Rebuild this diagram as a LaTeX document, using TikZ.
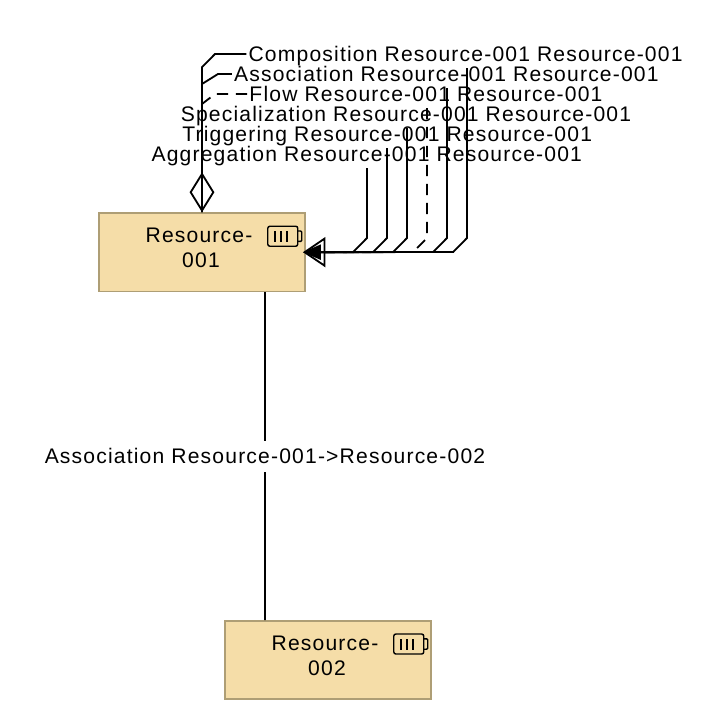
\documentclass[tikz,border=0pt]{standalone}
\usepackage{fontspec}
\setmainfont[LetterSpace=5.6]{Liberation Sans}
\usetikzlibrary{arrows.meta,positioning}
\definecolor{resfill}{HTML}{F5DDA8}
\definecolor{resline}{HTML}{AE9E75}
\newcommand{\batteryicon}[1]{%
  \draw[icon, rounded corners=1.5pt] ([xshift=-.95cm,yshift=-.35cm]#1) rectangle ([xshift=-.2cm,yshift=-.85cm]#1);
  \draw[icon, rounded corners=.8pt] ([xshift=-.2cm,yshift=-.47cm]#1) -- ([xshift=-.1cm,yshift=-.47cm]#1)
    -- ([xshift=-.1cm,yshift=-.73cm]#1) -- ([xshift=-.2cm,yshift=-.73cm]#1);
  \draw[icon] ([xshift=-.77cm,yshift=-.48cm]#1) -- ([xshift=-.77cm,yshift=-.75cm]#1);
  \draw[icon] ([xshift=-.62cm,yshift=-.48cm]#1) -- ([xshift=-.62cm,yshift=-.75cm]#1);
  \draw[icon] ([xshift=-.47cm,yshift=-.48cm]#1) -- ([xshift=-.47cm,yshift=-.75cm]#1);
}

\begin{document}
\begin{tikzpicture}[
  resource/.style={draw=resline, fill=resfill, line width=1.1pt, align=center,
    minimum width=5.15cm, minimum height=1.96cm, font=\fontsize{15}{17.8}\selectfont},
  rel/.style={font=\fontsize{15}{17}\selectfont, inner sep=0pt, text height=.42cm, text depth=.04cm},
  link/.style={draw=black, line width=1.3pt},
  flowlink/.style={link, dash pattern=on 8pt off 5.5pt},
  icon/.style={draw=black, line width=1pt},
  hollowtip/.style={-{Triangle[open, length=.56cm, width=.75cm]}, shorten >=-.07cm},
  solidtip/.style={-{Triangle[length=.45cm, width=.38cm]}, shorten >=-.07cm},
  diamondtip/.style={{Diamond[open, length=1cm, width=.62cm]}-}
]
  \useasboundingbox (0,0) rectangle (18.15,-18);

  \node[resource] (res1) at (5.05,-6.305) {Resource-\hspace*{.15cm}\\001\hspace*{.05cm}\rule[-.23cm]{0pt}{0pt}};
  \node[resource] (res2) at (8.2,-16.5) {Resource-\hspace*{.15cm}\\002\hspace*{.05cm}\rule[-.23cm]{0pt}{0pt}};
  \batteryicon{res1.north east}
  \batteryicon{res2.north east}

  \node[rel] (comp) at (11.64,-1.35) {Composition Resource-001 Resource-001};
  \node[rel] (assoc) at (11.16,-1.85) {Association Resource-001 Resource-001};
  \node[rel] (flow) at (10.65,-2.35) {Flow Resource-001 Resource-001};
  \node[rel] (spec) at (10.15,-2.85) {Specialization Resource-001 Resource-001};
  \node[rel] (trig) at (9.68,-3.35) {Triggering Resource-001 Resource-001};
  \node[rel] (aggr) at (9.17,-3.85) {Aggregation Resource-001 Resource-001};

  \coordinate (compend) at (11.675,-1.7);
  \coordinate (assocend) at (11.175,-2.2);
  \coordinate (flowend) at (10.675,-2.7);
  \coordinate (specend) at (10.175,-3.2);
  \coordinate (trigend) at (9.675,-3.7);
  \coordinate (aggrend) at (9.175,-4.2);

  % left legs, up from the top of the box
  \draw[link] (comp.west) ++(-.05,0) -- (5.375,-1.35) -- (5.05,-1.68) -- (res1.north);
  \draw[link] (assoc.west) ++(-.05,0) -- (5.45,-1.85) -- (5.05,-2.1) -- (res1.north);
  \draw[flowlink] (flow.west) ++(-.05,0) -- (5.375,-2.35) -- (5.05,-2.6) -- (res1.north);
  \draw[link] (res1.north) -- (res1.north |- spec.south);
  \draw[link] (res1.north) -- (res1.north |- trig.south);
  \draw[link, diamondtip] (res1.north) -- (res1.north |- aggr.south);

  % right legs, down into the side of the box
  \draw[link, hollowtip] (specend) -- (10.175,-5.95) -- (9.83,-6.3) -- (res1.east);
  \draw[link, solidtip] (trigend) -- (9.675,-5.95) -- (9.33,-6.3) -- (res1.east);
  \draw[link] (compend) -- (11.675,-5.95) -- (11.33,-6.3) -- (res1.east);
  \draw[link] (assocend) -- (11.175,-5.95) -- (10.83,-6.3) -- (res1.east);
  \draw[flowlink] (flowend) -- (10.675,-5.95) -- (10.33,-6.3) -- (res1.east);
  \draw[link] (aggrend) -- (9.175,-5.95) -- (8.83,-6.3) -- (res1.east);

  \draw[link] ([xshift=1.575cm]res1.south) -- node[rel, fill=white, minimum height=.78cm] (between)
    {Association Resource-001->Resource-002} ([xshift=-1.575cm]res2.north);
\end{tikzpicture}
\end{document}
